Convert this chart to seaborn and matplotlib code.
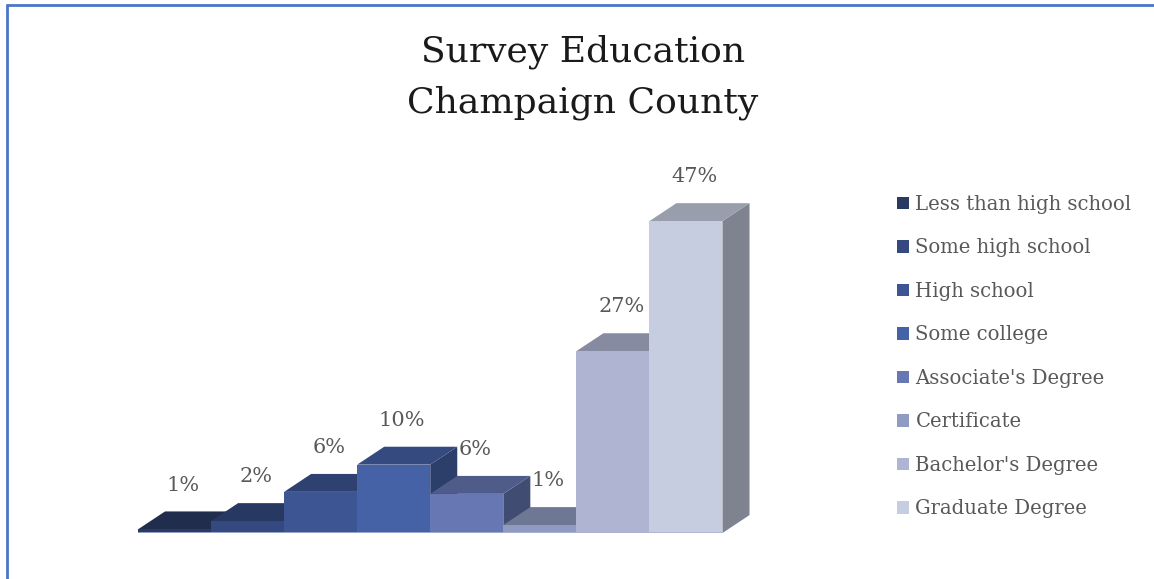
import seaborn as sns
import matplotlib.pyplot as plt
import matplotlib.colors as mcolors
from matplotlib.patches import Polygon, Patch
from matplotlib.lines import Line2D

# data
categories = ["Less than high school", "Some high school", "High school", "Some college",
              "Associate's Degree", "Certificate", "Bachelor's Degree", "Graduate Degree"]
values = [0.55, 1.8, 6.2, 10.3, 5.9, 1.2, 27.4, 47.0]
colors = ["#2b3a63", "#33497f", "#3d5592", "#4562a6", "#6677b3", "#8f9bc0", "#aeb4d2", "#c7cde0"]

sns.set_theme(style="white")
plt.rcParams['font.family'] = ['DejaVu Serif']

fig = plt.figure(figsize=(11.54, 5.79), dpi=100)
ax = fig.add_axes([138 / 1154, 46 / 579, 621 / 1154, 365 / 579])

sns.barplot(x=categories, y=values, hue=categories, palette=colors, width=1.0,
            saturation=1, legend=False, ax=ax, order=categories, hue_order=categories)

ax.set_xlim(-0.5, 8.0)
ax.set_ylim(0, 55)
ax.axis("off")

# fake 3d depth
dx, dy = 0.37, 2.7


def shade(c, f):
    r, g, b = mcolors.to_rgb(c)
    return (r * f, g * f, b * f)


bars = sorted(ax.patches, key=lambda p: p.get_x())
for i, (p, v, c) in enumerate(zip(bars, values, colors)):
    x0 = p.get_x()
    x1 = x0 + p.get_width()
    h = p.get_height()
    p.set_edgecolor("none")
    p.set_zorder(3 + i * 3 + 2)
    side = Polygon([(x1, 0), (x1 + dx, dy), (x1 + dx, h + dy), (x1, h)],
                   closed=True, facecolor=shade(c, 0.64), edgecolor="none", zorder=3 + i * 3)
    top = Polygon([(x0, h), (x1, h), (x1 + dx, h + dy), (x0 + dx, h + dy)],
                  closed=True, facecolor=shade(c, 0.77), edgecolor="none", zorder=3 + i * 3 + 1)
    ax.add_patch(side)
    ax.add_patch(top)
    ax.annotate(f"{round(v)}%", ((x0 + x1) / 2, h + dy), xytext=(6, 19),
                textcoords="offset points", ha="center", va="center",
                fontsize=15, color="#595959")

ax.plot([bars[0].get_x(), bars[-1].get_x() + bars[-1].get_width()], [0, 0],
        color="#aab3d3", lw=1.2, zorder=40)

# title
fig.text(0.505, 0.91, "Survey Education", ha="center", va="center", fontsize=26, color="#1a1a1a")
fig.text(0.505, 0.822, "Champaign County", ha="center", va="center", fontsize=26, color="#1a1a1a")

# legend
handles = [Patch(facecolor=c, edgecolor="none") for c in colors]
leg = fig.legend(handles, categories, loc="upper left", bbox_to_anchor=(889 / 1154, 1 - 187 / 579),
                 frameon=False, fontsize=14.1, handlelength=0.6, handleheight=0.6,
                 handletextpad=0.35, labelspacing=1.25, borderaxespad=0)
for t in leg.get_texts():
    t.set_color("#595959")

# chart border (top and left visible)
fig.add_artist(Line2D([7 / 1154, 1], [1 - 5 / 579, 1 - 5 / 579], color="#4a77c8", lw=2))
fig.add_artist(Line2D([7 / 1154, 7 / 1154], [0, 1 - 5 / 579], color="#4a77c8", lw=2))

fig.savefig("out.png", dpi=100)
